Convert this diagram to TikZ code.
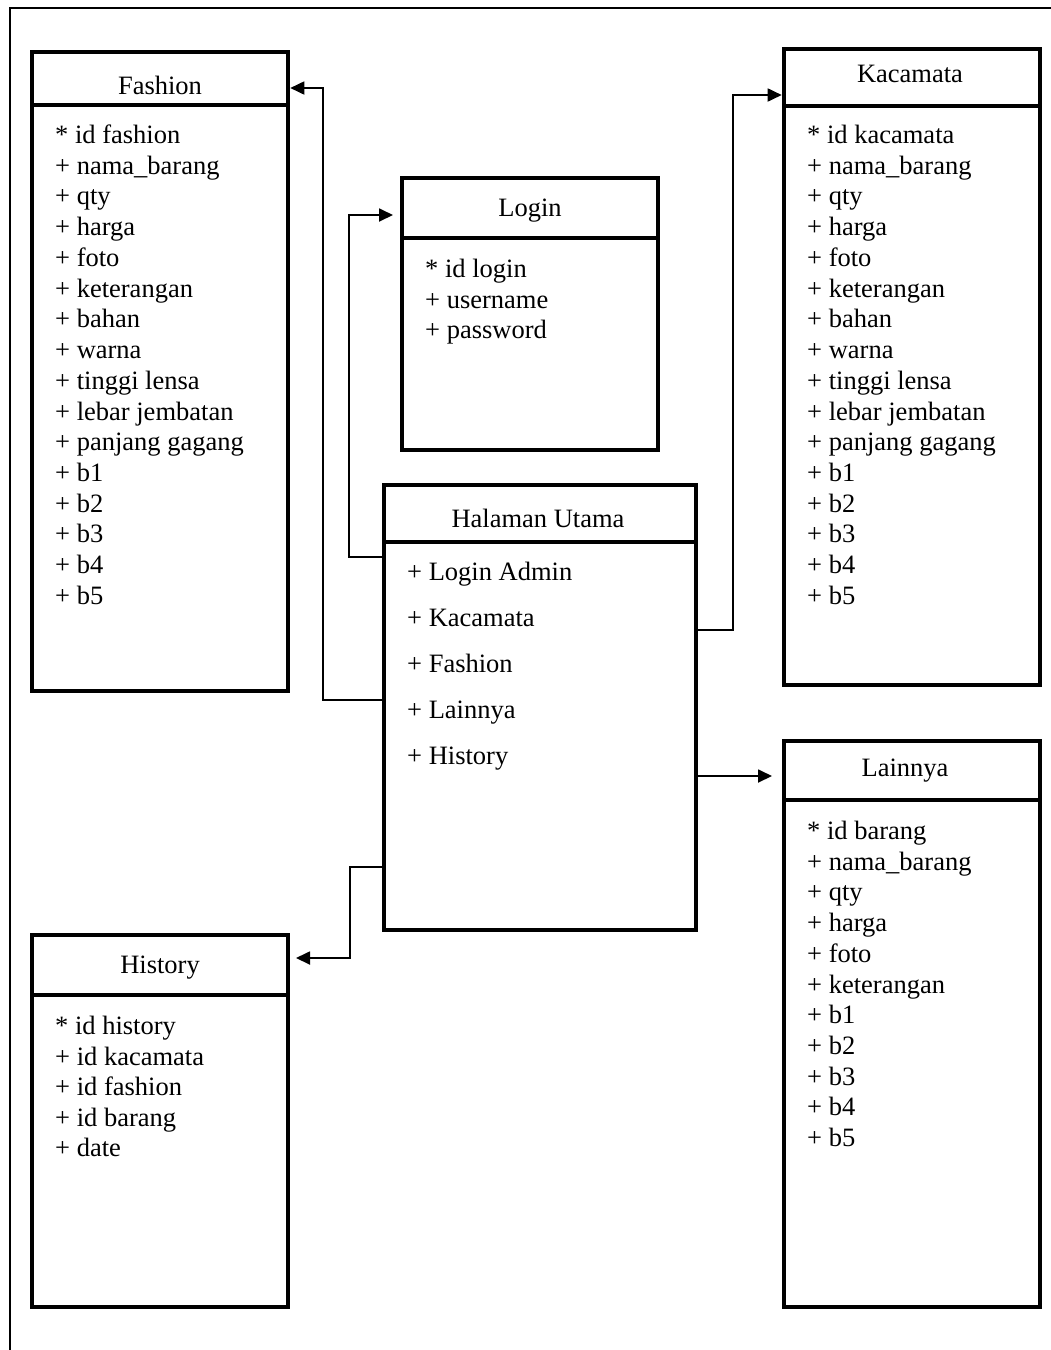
\documentclass[tikz,border=0pt]{standalone}
\usepackage{fontspec}
\setmainfont{Liberation Serif}
\usetikzlibrary{arrows.meta}
\begin{document}
\begin{tikzpicture}[x=1pt,y=-1pt,
  box/.style={draw, line width=4.5pt, rectangle, anchor=north west, inner sep=0pt, outer sep=0pt, minimum width=256pt},
  hdr/.style={line width=4.5pt},
  conn/.style={line width=1.8pt, -{Triangle[length=14pt,width=13pt]}, shorten >=2.3pt},
  attr/.style={anchor=west, inner sep=0pt, text height=17pt, text depth=0pt, font=\fontsize{26.5}{30}\selectfont},
  ttl/.style={anchor=center, inner sep=0pt, text height=17pt, text depth=0pt, font=\fontsize{26.5}{30}\selectfont},
  frame/.style={line width=1.5pt}
]
\useasboundingbox (0,0) rectangle (1051,1350);
\draw[frame] (10,1350) -- (10,8) -- (1051,8);

% boxes
\node[box, minimum height=639pt] (fashion) at (32,52) {};
\node[box, minimum height=272pt] (login) at (402,178) {};
\node[box, minimum height=636pt] (kaca) at (784,49) {};
\node[box, minimum width=312pt, minimum height=445pt] (hu) at (384,485) {};
\node[box, minimum height=566pt] (lain) at (784,741) {};
\node[box, minimum height=372pt] (hist) at (32,935) {};

% header lines
\draw[hdr] (fashion.west |- 0,105) -- (fashion.east |- 0,105);
\draw[hdr] (login.west |- 0,238) -- (login.east |- 0,238);
\draw[hdr] (kaca.west |- 0,106) -- (kaca.east |- 0,106);
\draw[hdr] (hu.west |- 0,542) -- (hu.east |- 0,542);
\draw[hdr] (lain.west |- 0,800) -- (lain.east |- 0,800);
\draw[hdr] (hist.west |- 0,995) -- (hist.east |- 0,995);

% titles
\node[ttl] (tf) at (160,86) {Fashion};
\node[ttl] (tl) at (530,208) {Login};
\node[ttl] (tk) at (910,74) {Kacamata};
\node[ttl] (th) at (538,519) {Halaman Utama};
\node[ttl] (tn) at (905,768) {Lainnya};
\node[ttl] (ty) at (160,965) {History};

% attributes
\foreach \t [count=\i from 0] in {* id fashion,+ nama\_barang,+ qty,+ harga,+ foto,+ keterangan,+ bahan,+ warna,+ tinggi lensa,+ lebar jembatan,+ panjang gagang,+ b1,+ b2,+ b3,+ b4,+ b5}
  \node[attr] (fa\i) at (55,135+30.73*\i) {\t};
\foreach \t [count=\i from 0] in {* id kacamata,+ nama\_barang,+ qty,+ harga,+ foto,+ keterangan,+ bahan,+ warna,+ tinggi lensa,+ lebar jembatan,+ panjang gagang,+ b1,+ b2,+ b3,+ b4,+ b5}
  \node[attr] (ka\i) at (807,135+30.73*\i) {\t};
\foreach \t [count=\i from 0] in {* id login,+ username,+ password}
  \node[attr] (lo\i) at (425,269+30.5*\i) {\t};
\foreach \t [count=\i from 0] in {+ Login Admin,+ Kacamata,+ Fashion,+ Lainnya,+ History}
  \node[attr] (hu\i) at (407,572+46*\i) {\t};
\foreach \t [count=\i from 0] in {* id barang,+ nama\_barang,+ qty,+ harga,+ foto,+ keterangan,+ b1,+ b2,+ b3,+ b4,+ b5}
  \node[attr] (la\i) at (807,831+30.7*\i) {\t};
\foreach \t [count=\i from 0] in {* id history,+ id kacamata,+ id fashion,+ id barang,+ date}
  \node[attr] (hi\i) at (55,1026+30.5*\i) {\t};

% connectors
\draw[conn] (hu.west |- 0,700) -| (323,88) -- (fashion.east |- 0,88);
\draw[conn, shorten >=9pt] (hu.west |- 0,557) -| (349,215) -- (login.west |- 0,215);
\draw[conn] (hu.east |- 0,630) -| (733,95) -- (kaca.west |- 0,95);
\draw[conn, shorten >=12pt] (hu.east |- 0,776) -- (lain.west |- 0,776);
\draw[conn, shorten >=8pt] (hu.west |- 0,867) -| (350,958) -- (hist.east |- 0,958);
\end{tikzpicture}
\end{document}
